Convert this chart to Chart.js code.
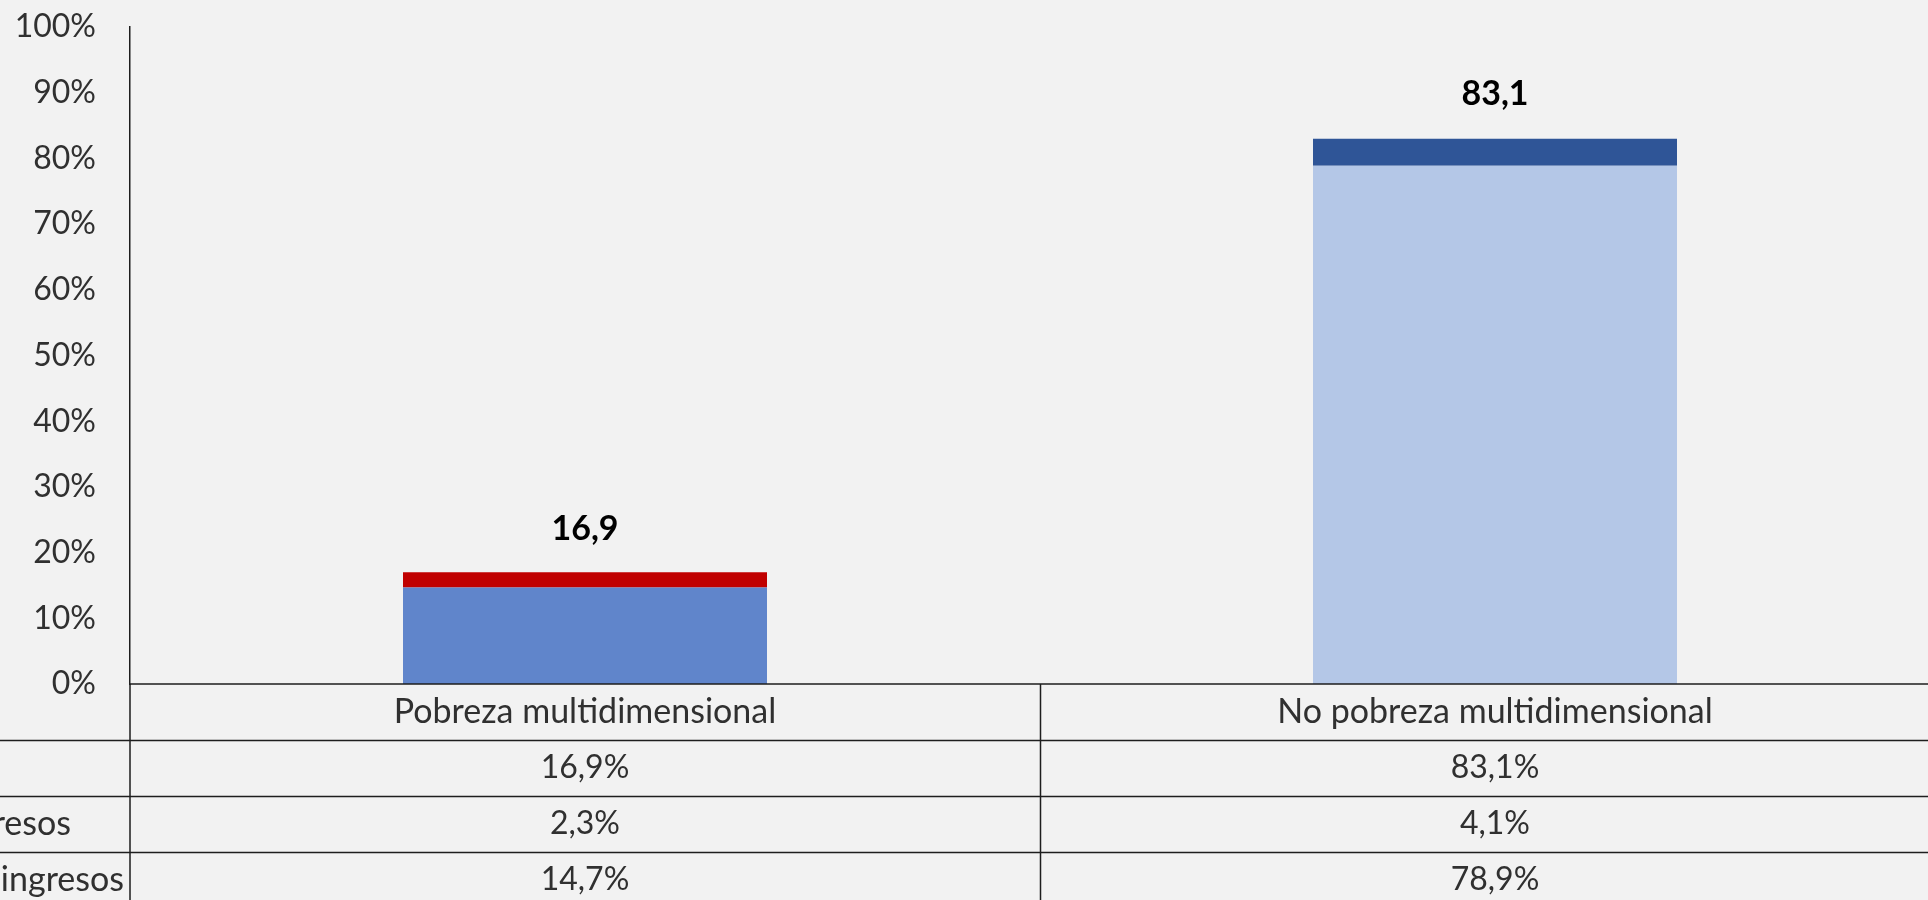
<!DOCTYPE html>
<html lang="es">
<head>
<meta charset="utf-8">
<title>Pobreza multidimensional y pobreza por ingresos</title>
<script src="https://cdn.jsdelivr.net/npm/chart.js@4.4.1/dist/chart.umd.min.js"></script>
<style>
  html, body { margin: 0; padding: 0; background: #F2F2F2; overflow: hidden; }
  #wrap { position: absolute; left: 0; top: 0; width: 1950px; height: 900px; }
  canvas { display: block; }
</style>
</head>
<body>
<div id="wrap"><canvas id="chart" width="1950" height="900"></canvas></div>
<script>
// Categories (columns of the data table)
const categories = ['Pobreza multidimensional', 'No pobreza multidimensional'];

// Series values, in percent
const totals = [16.9, 83.1];                 // total per category
const pobrezaIngresos = [2.3, 4.1];          // upper segment
const noPobrezaIngresos = [14.7, 78.9];      // lower segment

// Row labels of the data table
const rowLabels = ['Total', 'Pobreza por ingresos', 'No pobreza por ingresos'];
const tableRows = [totals, pobrezaIngresos, noPobrezaIngresos];

// Y axis ticks
const yTicks = [0, 10, 20, 30, 40, 50, 60, 70, 80, 90, 100];

// Segment colours per category
const upperColors = ['#C00000', '#2F5597'];
const lowerColors = ['#6085CB', '#B4C7E7'];

const FONT = 'Lato, "Noto Sans", sans-serif';
const TEXT = '#303030';
const LINE = '#1E1E1E';
const PLOT_TOP = 27;      // pixel row of the 100% tick
const PLOT_BOTTOM = 684;  // pixel row of the 0% baseline

const fmt = v => v.toFixed(1).replace('.', ',');

// Data table under the plot plus bold total labels above the bars
const tablePlugin = {
  id: 'dataTable',
  afterDraw(chart) {
    const { ctx, chartArea } = chart;
    const x = chart.scales.x;
    const y = chart.scales.y;
    const top = chartArea.bottom;
    const rowH = 56;
    const left = chartArea.left;
    const right = chart.width;
    const nRows = 1 + tableRows.length;

    ctx.save();
    ctx.strokeStyle = LINE;
    ctx.lineWidth = 1.5;

    ctx.beginPath();
    ctx.moveTo(left, top);
    ctx.lineTo(right, top);
    for (let r = 1; r < nRows; r++) {
      const yy = Math.round(top + r * rowH) + 0.5;
      ctx.moveTo(0, yy);
      ctx.lineTo(right, yy);
    }
    ctx.moveTo(left, top);
    ctx.lineTo(left, chart.height);
    for (let i = 0; i < categories.length - 1; i++) {
      const xx = Math.round((x.getPixelForValue(i) + x.getPixelForValue(i + 1)) / 2) + 0.5;
      ctx.moveTo(xx, top);
      ctx.lineTo(xx, chart.height);
    }
    ctx.stroke();

    ctx.fillStyle = TEXT;
    ctx.textBaseline = 'middle';
    ctx.textAlign = 'center';
    ctx.font = '34px ' + FONT;
    categories.forEach((c, i) => {
      ctx.fillText(c, x.getPixelForValue(i), top + rowH / 2);
    });
    ctx.font = '32px ' + FONT;
    tableRows.forEach((row, r) => {
      const cy = top + (r + 1.5) * rowH;
      row.forEach((v, i) => {
        ctx.fillText(fmt(v) + '%', x.getPixelForValue(i), cy);
      });
    });

    // row labels, left aligned and running into the left edge
    ctx.font = '34px ' + FONT;
    ctx.textAlign = 'left';
    const longest = Math.max(...rowLabels.map(l => ctx.measureText(l).width));
    const x0 = left - 6 - longest;
    rowLabels.forEach((l, r) => {
      ctx.fillText(l, x0, top + (r + 1.5) * rowH);
    });

    // bold totals above each bar
    ctx.fillStyle = '#000000';
    ctx.font = 'bold 34px ' + FONT;
    ctx.textAlign = 'center';
    totals.forEach((v, i) => {
      ctx.fillText(fmt(v), x.getPixelForValue(i), y.getPixelForValue(v) - 44);
    });
    ctx.restore();
  }
};

new Chart(document.getElementById('chart'), {
  type: 'bar',
  data: {
    labels: categories,
    datasets: [
      {
        label: rowLabels[2],
        data: noPobrezaIngresos,
        backgroundColor: lowerColors,
        borderWidth: 0
      },
      {
        label: rowLabels[1],
        data: pobrezaIngresos,
        backgroundColor: upperColors,
        borderWidth: 0
      }
    ]
  },
  options: {
    responsive: false,
    animation: false,
    devicePixelRatio: 1,
    layout: { padding: { top: 0, bottom: 900 - PLOT_BOTTOM, left: 0, right: 0 } },
    datasets: { bar: { barPercentage: 0.4, categoryPercentage: 1 } },
    plugins: {
      legend: { display: false },
      tooltip: { enabled: false }
    },
    scales: {
      x: {
        stacked: true,
        display: false
      },
      y: {
        stacked: true,
        min: 0,
        max: 100,
        afterBuildTicks(scale) {
          scale.ticks = yTicks.map(v => ({ value: v }));
        },
        afterFit(scale) {
          scale.width = 130;
          scale.paddingTop = PLOT_TOP;
          scale.paddingBottom = 0;
        },
        grid: { display: false },
        border: { display: true, color: LINE, width: 1.5 },
        ticks: {
          color: TEXT,
          padding: 26,
          font: { family: FONT, size: 32 },
          callback: v => v + '%'
        }
      }
    }
  },
  plugins: [tablePlugin]
});
</script>
</body>
</html>
